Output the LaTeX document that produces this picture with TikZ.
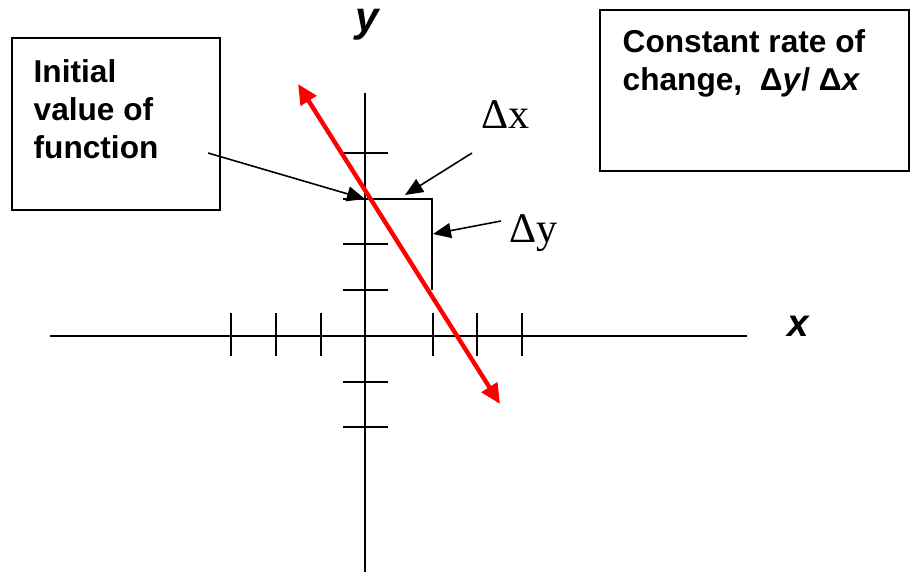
\documentclass[tikz,border=0pt]{standalone}
\usepackage{fontspec}
\setmainfont{Liberation Serif}
\setsansfont{Liberation Sans}
\usetikzlibrary{arrows.meta, positioning}

\begin{document}
\begin{tikzpicture}[x=0.02cm, y=-0.02cm, thick,
    box/.style={draw, line width=1.1pt, rectangle, inner sep=0pt},
    boxtext/.style={anchor=north west, inner sep=0pt, align=left, font=\sffamily\bfseries\fontsize{18}{21.5}\selectfont},
    delta/.style={anchor=base west, inner sep=0pt, font=\fontsize{24}{28}\selectfont},
    axislabel/.style={anchor=base west, inner sep=0pt},
    axisline/.style={line width=1.1pt},
    tickmark/.style={line width=1.1pt},
    pointer/.style={-{Triangle[length=3.6mm, width=3mm]}, line width=0.9pt}]

    \useasboundingbox (0,0) rectangle (910,572);

    % Axes
    \coordinate (xl) at (50,336);
    \coordinate (xr) at (747,336);
    \coordinate (yt) at (365,93);
    \coordinate (yb) at (365,572);
    \draw[axisline] (xl) -- (xr);
    \draw[axisline] (yt) -- (yb);

    % Tick marks
    \foreach \tx in {231,276,321,433,477,522}
        \draw[tickmark] (\tx,313) -- (\tx,356);
    \foreach \ty in {153,199,244,290,382,427}
        \draw[tickmark] (343,\ty) -- (388,\ty);

    % Run and rise
    \coordinate (y0) at (365,199);
    \coordinate (corner) at (432,199);
    \coordinate (runend) at (432,290);
    \draw[axisline] (y0) -- (corner) -- (runend);

    % The function line
    \coordinate (lstart) at (298,84);
    \coordinate (lend) at (500,404);
    \draw[red, line width=2.5pt, {Triangle[length=4mm, width=3.6mm]}-{Triangle[length=4mm, width=3.6mm]}] (lstart) -- (lend);

    % Axis labels
    \node (ylabel) [axislabel, font=\sffamily\bfseries\itshape\fontsize{24}{28}\selectfont] at (355,31) {y};
    \node (xlabel) [axislabel, font=\sffamily\bfseries\itshape\fontsize{22}{26}\selectfont] at (787,336) {x};

    % Boxes
    \node (initbox) [box, minimum width=4.16cm, minimum height=3.44cm] at (116,124) {};
    \node (inittext) [boxtext] at (33,59) {Initial\\value of\\function};
    \node (ratebox) [box, minimum width=6.18cm, minimum height=3.22cm] at (754.5,90.5) {};
    \node (ratetext) [boxtext] at (622,29) {Constant rate of\\change,\ \ Δ\textit{y}/ Δ\textit{x}};

    % Delta labels
    \node (dx) [delta] at (481,128) {Δx};
    \node (dy) [delta] at (509,242) {Δy};

    % Pointers
    \coordinate (fnend) at (208,153);
    \draw[pointer] (fnend) -- (y0);
    \coordinate (dxfoot) at (472,153);
    \coordinate (dxtip) at (405,195);
    \draw[pointer] (dxfoot) -- (dxtip);
    \coordinate (dyfoot) at (501,221);
    \coordinate (dytip) at (433,234);
    \draw[pointer] (dyfoot) -- (dytip);
\end{tikzpicture}
\end{document}
